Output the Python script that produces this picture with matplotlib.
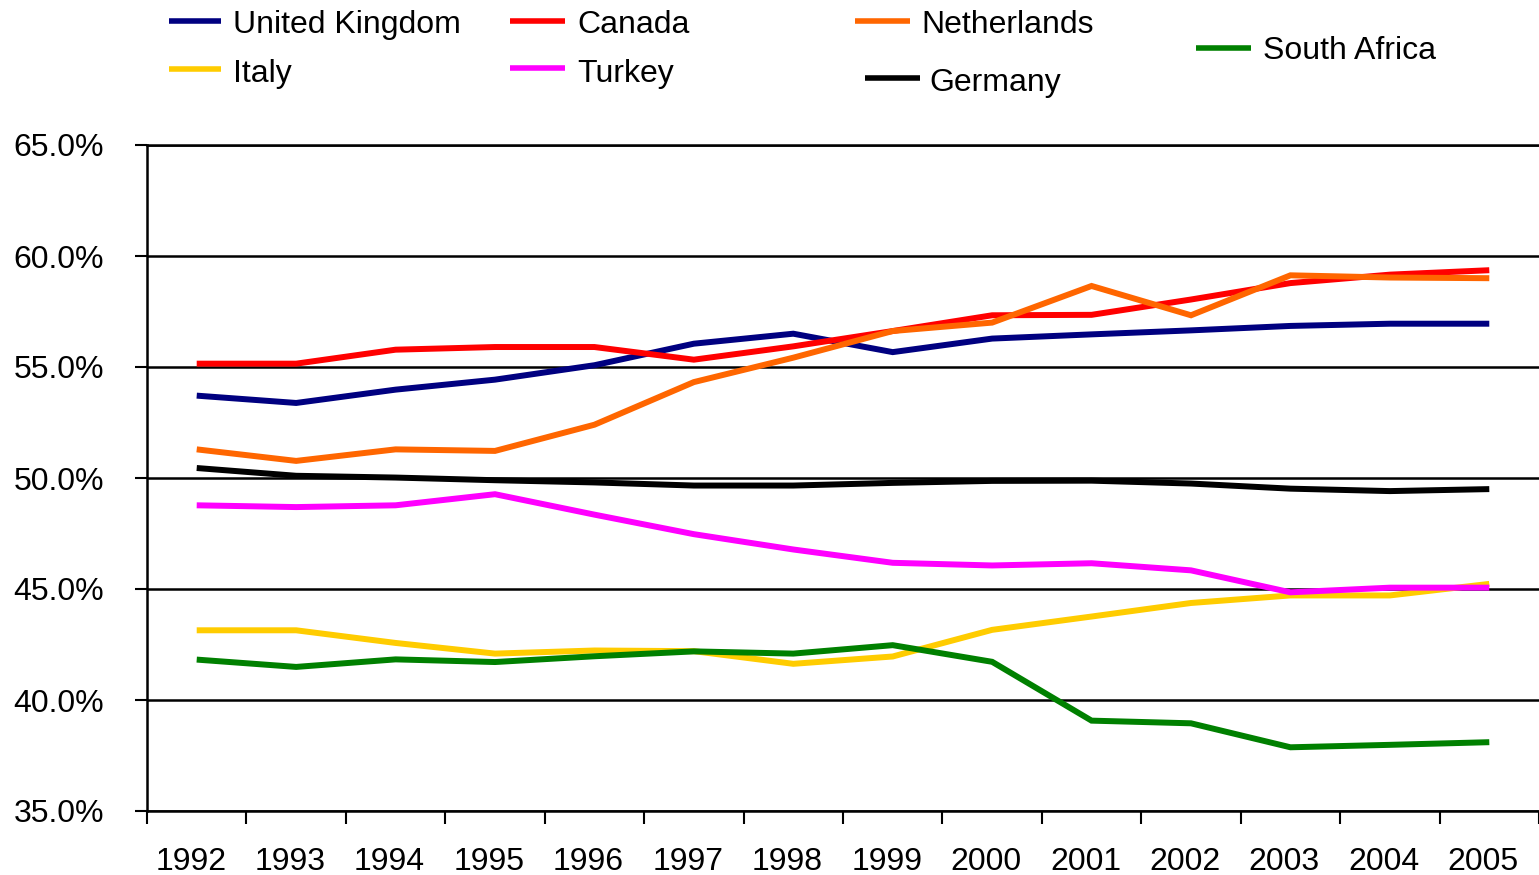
import matplotlib

matplotlib.use("Agg")
import matplotlib.pyplot as plt
import matplotlib.transforms as mtransforms
import numpy as np
from matplotlib.lines import Line2D

# Labour force participation style shares (%)
years = [str(y) for y in range(1992, 2006)]
united_kingdom = [53.71, 53.38, 53.98, 54.43, 55.08, 56.05, 56.50, 55.67, 56.28, 56.47, 56.65, 56.85, 56.95, 56.95]
canada = [55.15, 55.15, 55.78, 55.90, 55.90, 55.33, 55.93, 56.62, 57.33, 57.35, 58.04, 58.78, 59.16, 59.36]
netherlands = [51.29, 50.77, 51.29, 51.22, 52.40, 54.32, 55.42, 56.62, 57.00, 58.65, 57.33, 59.13, 59.03, 59.00]
italy = [43.14, 43.14, 42.57, 42.09, 42.23, 42.20, 41.63, 41.96, 43.16, 43.76, 44.37, 44.71, 44.71, 45.23]
turkey = [48.77, 48.69, 48.77, 49.27, 48.35, 47.47, 46.78, 46.18, 46.06, 46.16, 45.84, 44.85, 45.06, 45.06]
germany = [50.45, 50.10, 50.02, 49.90, 49.80, 49.66, 49.66, 49.78, 49.87, 49.88, 49.75, 49.52, 49.41, 49.50]
south_africa = [41.82, 41.49, 41.83, 41.71, 41.97, 42.19, 42.09, 42.47, 41.72, 39.07, 38.95, 37.87, 37.98, 38.10]

W, H = 1539, 875

plt.rcParams.update({
    "font.family": ["Liberation Sans", "DejaVu Sans"],
    "font.size": 23,
})

series = [
    ("United Kingdom", united_kingdom, "#000080"),
    ("Canada", canada, "#ff0000"),
    ("Netherlands", netherlands, "#ff6600"),
    ("Italy", italy, "#ffcc00"),
    ("Turkey", turkey, "#ff00ff"),
    ("Germany", germany, "#000000"),
    ("South Africa", south_africa, "#008000"),
]

# legend layout in pixels: handle x0, x1, handle y, text x, text baseline y
legend_layout = {
    "United Kingdom": (169, 221, 20.5, 233, 33),
    "Canada": (510, 565, 21, 577, 33),
    "Netherlands": (855, 910, 20.5, 921, 33),
    "Italy": (169, 221, 69, 233, 82),
    "Turkey": (510, 565, 68, 577, 82),
    "Germany": (865, 920, 77.5, 929, 91),
    "South Africa": (1196, 1251, 48, 1263, 59),
}


def fx(x):
    return x / W


def fy(y):
    return 1 - y / H


fig = plt.figure(figsize=(W / 100, H / 100), dpi=100)
ax = fig.add_axes([fx(147), fy(811), 1 - fx(147), (811 - 145) / H])

x = np.arange(len(years))
for name, vals, color in series:
    ax.plot(x, vals, color=color, lw=4.3, solid_joinstyle="miter", solid_capstyle="butt", zorder=3)

ax.set_xlim(-0.5, len(years) - 0.5)
ax.set_ylim(35, 65)

# y axis
ax.set_yticks(np.arange(35, 66, 5))
ax.set_yticklabels([f"{v:.1f}%" for v in np.arange(35, 66, 5)])
ax.yaxis.grid(True, color="black", lw=1.8, zorder=1)

# x axis: ticks between categories, labels at centres
ax.set_xticks(np.arange(-0.5, len(years), 1))
ax.set_xticklabels([])
ax.set_xticks(x, minor=True)
ax.set_xticklabels(years, minor=True)
ax.tick_params(axis="x", which="major", direction="out", length=9, width=1.5, color="black")
ax.tick_params(axis="x", which="minor", length=0, pad=26)
ax.tick_params(axis="y", direction="out", length=9, width=1.5, pad=22)

# the reference year labels sit a few pixels left of the category centres
shift = mtransforms.ScaledTranslation(-6 / 100, 0, fig.dpi_scale_trans)
for lbl in ax.get_xticklabels(minor=True):
    lbl.set_transform(lbl.get_transform() + shift)

for side in ["left", "bottom", "top"]:
    ax.spines[side].set_color("black")
    ax.spines[side].set_linewidth(1.8)
ax.spines["right"].set_visible(False)
ax.set_axisbelow(True)

# hand-placed legend to follow the reference layout
for name, vals, color in series:
    hx0, hx1, hy, tx, ty = legend_layout[name]
    fig.add_artist(Line2D([fx(hx0), fx(hx1)], [fy(hy), fy(hy)], transform=fig.transFigure,
                          color=color, lw=4.0, solid_capstyle="butt"))
    fig.text(fx(tx), fy(ty), name, ha="left", va="baseline", fontsize=23)

fig.savefig("out.png", dpi=100, facecolor="white")
